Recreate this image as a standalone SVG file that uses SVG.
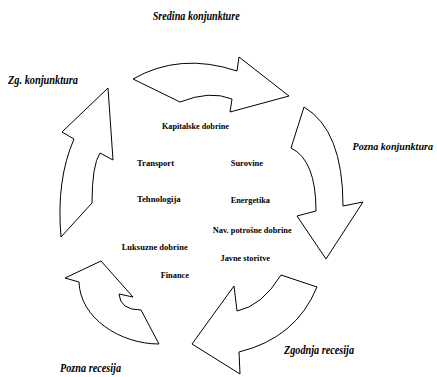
<svg xmlns="http://www.w3.org/2000/svg" width="437" height="377" viewBox="0 0 437 377">
<style>
.arrow{fill:#fff;stroke:#000;stroke-width:1;stroke-linejoin:miter}
.phase{font-family:'Liberation Serif','Times New Roman','DejaVu Serif',serif;font-weight:700;font-style:italic;font-size:11.5px;fill:#000}
.sector{font-family:'Liberation Serif','Times New Roman','DejaVu Serif',serif;font-weight:700;font-size:8px;fill:#000}
</style>
<rect width="437" height="377" fill="#fff"/>
<g id="arrows">
<g id="arrow-top"><path class="arrow" d="M133,79 Q180,52 237,71 L239,57 L289,96 L230,112 L232,99 Q210,90 180,102 Z"/></g>
<g id="arrow-right"><path class="arrow" d="M304,107 Q343,130 343,206 L363,202 L326,259 L297,216 L316,211 Q316,160 291,148 Z"/></g>
<g id="arrow-bottom-right"><path class="arrow" d="M281,275 L317,287 Q296,338 239,352 L240,374 L192,344 L234,286 L237,311 Q262,306 281,275 Z"/></g>
<g id="arrow-bottom-left"><path class="arrow" d="M65,278 L101,261 L133,297 L119,294 Q120,310 141,310 L159,344 C120,344 80,318 79,282 Z"/></g>
<g id="arrow-left"><path class="arrow" d="M61,237 Q56,180 74,139 L62,132 L108,88 L113,160 L100,153 Q92,165 92,203 Z"/></g>
</g>
<g id="phases">
<text class="phase" x="152.7" y="20" textLength="87" lengthAdjust="spacingAndGlyphs">Sredina konjunkture</text>
<text class="phase" x="8" y="84" textLength="70" lengthAdjust="spacingAndGlyphs">Zg. konjunktura</text>
<text class="phase" x="352.5" y="150" style="font-size:10.5px" textLength="80.5" lengthAdjust="spacingAndGlyphs">Pozna konjunktura</text>
<text class="phase" x="284" y="354" textLength="70" lengthAdjust="spacingAndGlyphs">Zgodnja recesija</text>
<text class="phase" x="60" y="372" textLength="61" lengthAdjust="spacingAndGlyphs">Pozna recesija</text>
</g>
<g id="sectors">
<text class="sector" x="162" y="128.5" textLength="67" lengthAdjust="spacingAndGlyphs">Kapitalske dobrine</text>
<text class="sector" x="137" y="165.5" textLength="37" lengthAdjust="spacingAndGlyphs">Transport</text>
<text class="sector" x="230.7" y="166" textLength="32.3" lengthAdjust="spacingAndGlyphs">Surovine</text>
<text class="sector" x="137" y="202" textLength="43.7" lengthAdjust="spacingAndGlyphs">Tehnologija</text>
<text class="sector" x="230.7" y="202.5" textLength="39.3" lengthAdjust="spacingAndGlyphs">Energetika</text>
<text class="sector" x="212.7" y="233" textLength="79" lengthAdjust="spacingAndGlyphs">Nav. potrošne dobrine</text>
<text class="sector" x="121.7" y="250" textLength="66" lengthAdjust="spacingAndGlyphs">Luksuzne dobrine</text>
<text class="sector" x="220.5" y="261" textLength="49.5" lengthAdjust="spacingAndGlyphs">Javne storitve</text>
<text class="sector" x="160.7" y="278" textLength="28.3" lengthAdjust="spacingAndGlyphs">Finance</text>
</g>
</svg>
